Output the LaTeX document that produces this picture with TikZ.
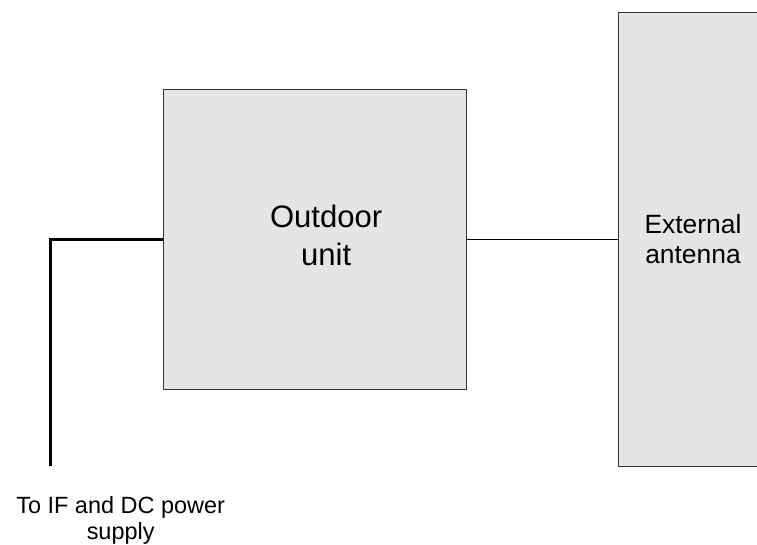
\documentclass[tikz,border=0pt]{standalone}
\usepackage{fontspec}
\setmainfont{Liberation Sans}
\usetikzlibrary{positioning}

\begin{document}
\begin{tikzpicture}[unit/.style={rectangle, draw=black!80, fill=black!10, line width=0.75pt, inner sep=0pt},
      cable/.style={line width=2.25pt},
      feed/.style={line width=0.75pt},
      x=1pt, y=1pt]
      \useasboundingbox (0,0) rectangle (567.75,-408);
      \clip (0,0) rectangle (567.75,-408);

      \node[unit, minimum width=227.25pt, minimum height=225pt] (odu) at (236.6,-179.25) {};
      \node[align=center, font=\fontsize{23.3}{28.5}\selectfont] (odulbl) at ([xshift=8pt, yshift=3pt]odu) {Outdoor\\unit};
      \node[unit, minimum width=105.75pt, minimum height=340.5pt, anchor=west] (ant) at (463.5,-179.25) {};
      \node[align=center, font=\fontsize{19.8}{22.5}\selectfont] (antlbl) at ([xshift=3pt]ant) {External\\antenna};

      \coordinate (corner) at (37.5,-179.25);
      \coordinate (supply) at (37.5,-349.5);
      \node[align=center, font=\fontsize{17.6}{19.5}\selectfont, below=19.5pt of supply, xshift=53pt] (lbl) {To IF and DC power\\supply};

      \draw[cable] (odu.west) -- (corner) -- (supply);
      \draw[feed] (odu.east) -- (ant.west);

    \end{tikzpicture}
\end{document}
